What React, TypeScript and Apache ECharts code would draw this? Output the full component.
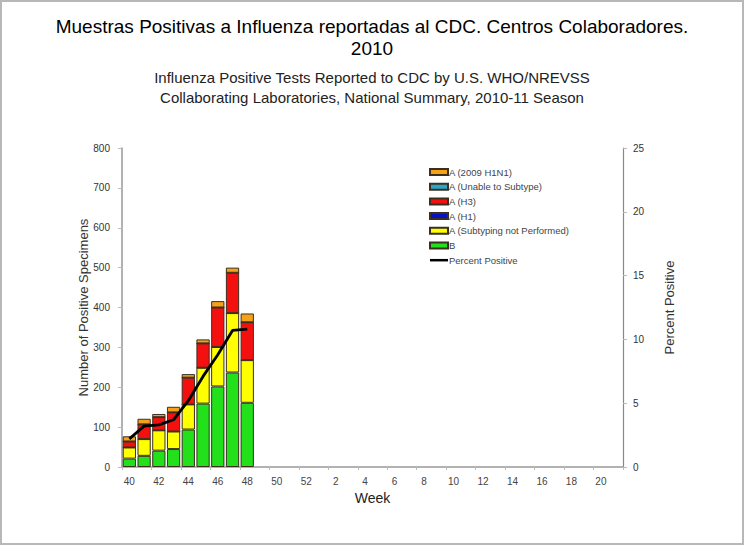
import React, { useEffect, useRef } from "react";
import * as echarts from "echarts";

const weeks: string[] = [
  "40", "41", "42", "43", "44", "45", "46", "47", "48", "49", "50", "51", "52",
  "1", "2", "3", "4", "5", "6", "7", "8", "9", "10", "11", "12", "13", "14", "15", "16", "17", "18", "19", "20", "21",
];

const seriesB: number[] = [21, 28, 41, 45, 94, 159, 202, 237, 161];
const seriesNotSubtyped: number[] = [28, 42, 51, 44, 63, 90, 99, 149, 107];
const seriesH1: number[] = [0, 0, 0, 0, 0, 0, 0, 0, 0];
const seriesH3: number[] = [15, 37, 33, 48, 67, 61, 99, 101, 95];
const seriesUnable: number[] = [0, 0, 0, 0, 0, 0, 0, 0, 0];
const seriesH1N1: number[] = [13, 14, 8, 14, 9, 10, 16, 13, 22];
const percentPositive: number[] = [2.2, 3.2, 3.3, 3.7, 5.2, 7.1, 8.8, 10.7, 10.8];

const FONT = "'Liberation Sans', Arial, sans-serif";

export default function App() {
  const ref = useRef<HTMLDivElement>(null);
  useEffect(() => {
    if (!ref.current) return;
    const chart = echarts.init(ref.current, undefined, { renderer: "svg" });
    const barBorder = { borderColor: "#3b3020", borderWidth: 1 };
    const mkBar = (name: string, data: number[], color: string) => ({
      name,
      type: "bar",
      stack: "total",
      data,
      barCategoryGap: "10%",
      itemStyle: { color, ...barBorder },
    });
    chart.setOption({
      animation: false,
      backgroundColor: "#ffffff",
      textStyle: { fontFamily: FONT },
      title: [
        {
          text: "Muestras Positivas a Influenza reportadas al CDC. Centros Colaboradores.\n2010",
          left: "center",
          top: 10,
          textStyle: { fontFamily: FONT, fontSize: 19, fontWeight: "normal", color: "#000", lineHeight: 22 },
        },
        {
          text: "Influenza Positive Tests Reported to CDC by U.S. WHO/NREVSS\nCollaborating Laboratories, National Summary, 2010-11 Season",
          left: "center",
          top: 62,
          textStyle: { fontFamily: FONT, fontSize: 15, fontWeight: "normal", color: "#222", lineHeight: 20 },
        },
      ],
      graphic: [
        {
          type: "rect",
          shape: { x: 1, y: 1, width: 742, height: 543 },
          style: { fill: "none", stroke: "#b8b8b8", lineWidth: 2 },
          silent: true,
        },
      ],
      legend: {
        orient: "vertical",
        left: 424,
        top: 162,
        itemWidth: 18,
        itemHeight: 6,
        itemGap: 4.7,
        textStyle: { fontFamily: FONT, fontSize: 9.5, color: "#444", lineHeight: 10, padding: [0, 0, 0, -4] },
        data: [
          { name: "A (2009 H1N1)", icon: "rect" },
          { name: "A (Unable to Subtype)", icon: "rect" },
          { name: "A (H3)", icon: "rect" },
          { name: "A (H1)", icon: "rect" },
          { name: "A (Subtyping not Performed)", icon: "rect" },
          { name: "B", icon: "rect" },
          {
            name: "Percent Positive",
            icon: "path://M0,0L18,0L18,2.5L0,2.5Z",
            itemStyle: { color: "#000", borderWidth: 0 },
          },
        ],
      },
      grid: { left: 122, right: 121, top: 148, bottom: 78, containLabel: false },
      xAxis: {
        type: "category",
        data: weeks,
        boundaryGap: true,
        name: "Week",
        nameLocation: "middle",
        nameGap: 24,
        nameTextStyle: { fontFamily: FONT, fontSize: 14, color: "#222" },
        axisLine: { lineStyle: { color: "#999", width: 1.5 } },
        axisTick: { show: true, length: 3, lineStyle: { color: "#bbb" } },
        axisLabel: { interval: 1, fontSize: 10, color: "#444", margin: 9, fontFamily: FONT },
        splitLine: { show: false },
      },
      yAxis: [
        {
          type: "value",
          min: 0,
          max: 800,
          interval: 100,
          name: "Number of Positive Specimens",
          nameLocation: "middle",
          nameGap: 32,
          nameMoveOverlap: false,
          nameTextStyle: { fontFamily: FONT, fontSize: 13, color: "#333" },
          axisLine: { show: true, lineStyle: { color: "#999", width: 1.5 } },
          axisTick: { show: true, length: 4, lineStyle: { color: "#bbb" } },
          axisLabel: { fontSize: 10, color: "#333", margin: 12, fontFamily: FONT },
          splitLine: { show: false },
        },
        {
          type: "value",
          min: 0,
          max: 25,
          interval: 5,
          position: "right",
          name: "Percent Positive",
          nameLocation: "middle",
          nameGap: 40,
          nameRotate: 90,
          nameTextStyle: { fontFamily: FONT, fontSize: 13, color: "#333" },
          axisLine: { show: true, lineStyle: { color: "#888", width: 1.2 } },
          axisTick: { show: true, length: 4, lineStyle: { color: "#bbb" } },
          axisLabel: { fontSize: 10, color: "#333", margin: 10, fontFamily: FONT },
          splitLine: { show: false },
        },
      ],
      series: [
        mkBar("B", seriesB, "#22e01a"),
        mkBar("A (Subtyping not Performed)", seriesNotSubtyped, "#ffff00"),
        mkBar("A (H1)", seriesH1, "#0a10c8"),
        mkBar("A (H3)", seriesH3, "#f51010"),
        mkBar("A (Unable to Subtype)", seriesUnable, "#2aa6c8"),
        mkBar("A (2009 H1N1)", seriesH1N1, "#f6a11a"),
        {
          name: "Percent Positive",
          type: "line",
          yAxisIndex: 1,
          data: percentPositive,
          symbol: "none",
          z: 10,
          lineStyle: { color: "#000", width: 2.8 },
          itemStyle: { color: "#000" },
        },
      ],
    });
    return () => chart.dispose();
  }, []);
  return (
    <div
      ref={ref}
      style={{ position: "fixed", left: 0, top: 0, width: 744, height: 545, background: "#fff" }}
    />
  );
}
